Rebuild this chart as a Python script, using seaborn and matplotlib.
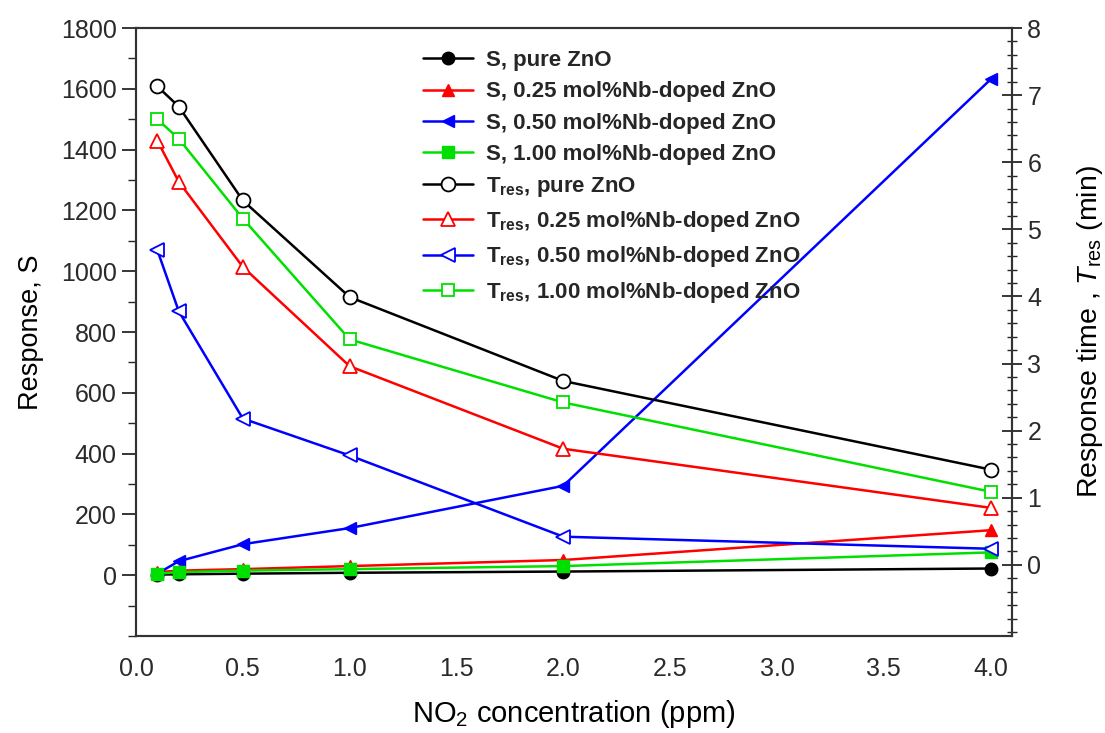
import matplotlib
matplotlib.use("Agg")
import matplotlib.pyplot as plt
from matplotlib.ticker import MultipleLocator
import seaborn as sns
import pandas as pd

sns.set_theme(style="white")
plt.rcParams["font.family"] = ["Liberation Sans", "DejaVu Sans"]
plt.rcParams["mathtext.fontset"] = "custom"
plt.rcParams["mathtext.rm"] = "Liberation Sans"
plt.rcParams["mathtext.it"] = "Liberation Sans:italic"
plt.rcParams["mathtext.bf"] = "Liberation Sans:bold"

# NO2 concentration (ppm)
conc = [0.1, 0.2, 0.5, 1.0, 2.0, 4.0]

# Response S
s_pure = [2, 3, 5, 8, 12, 22]
s_025 = [10, 15, 20, 30, 50, 148]
s_050 = [5, 46, 102, 155, 294, 1631]
s_100 = [5, 10, 15, 20, 30, 75]

# Response time T_res (min)
t_pure = [7.13, 6.83, 5.43, 3.99, 2.74, 1.42]
t_025 = [6.32, 5.71, 4.44, 2.96, 1.73, 0.85]
t_050 = [4.69, 3.78, 2.18, 1.63, 0.42, 0.24]
t_100 = [6.64, 6.35, 5.16, 3.36, 2.42, 1.09]

samples = ["pure ZnO", "0.25 mol%Nb-doped ZnO", "0.50 mol%Nb-doped ZnO", "1.00 mol%Nb-doped ZnO"]
colors = ["#000000", "#ff0000", "#0000ff", "#00e000"]
markers = ["o", "^", "<", "s"]

fig = plt.figure(figsize=(11.05, 7.33), dpi=100)
ax = fig.add_axes([136 / 1105, 1 - 636 / 733, (1012 - 136) / 1105, (636 - 28) / 733])
ax2 = ax.twinx()

handles = []
s_sets = [s_pure, s_025, s_050, s_100]
t_sets = [t_pure, t_025, t_050, t_100]

# filled markers: response on the left axis
for name, col, mk, vals in zip(samples, colors, markers, s_sets):
    ms = 9 if mk != "s" else 8
    df = pd.DataFrame({"conc": conc, "S": vals})
    sns.lineplot(data=df, x="conc", y="S", ax=ax, color=col, marker=mk,
                 markersize=ms, markerfacecolor=col, markeredgecolor=col,
                 markeredgewidth=1.0, linewidth=1.8, legend=False)
    handles.append((plt.Line2D([], [], color=col, marker=mk, markersize=ms,
                               mfc=col, mec=col, lw=1.8), "S, " + name))

# open markers: response time on the right axis
for name, col, mk, vals in zip(samples, colors, markers, t_sets):
    ms = 10 if mk != "s" else 9
    df = pd.DataFrame({"conc": conc, "T": vals})
    sns.lineplot(data=df, x="conc", y="T", ax=ax2, color=col, marker=mk,
                 markersize=ms, markerfacecolor="white", markeredgecolor=col,
                 markeredgewidth=1.3, linewidth=1.8, legend=False)
    handles.append((plt.Line2D([], [], color=col, marker=mk, markersize=ms,
                               mfc="white", mec=col, mew=1.3, lw=1.8),
                    r"T$_\mathregular{res}$, " + name))

ax.set_xlim(0, 4.1)
ax.set_ylim(-200, 1800)
ax2.set_ylim(-1.06, 8)

ax.xaxis.set_minor_locator(MultipleLocator(0.1))
ax.yaxis.set_minor_locator(MultipleLocator(100))
ax2.yaxis.set_minor_locator(MultipleLocator(0.2))

xt = [0, 0.5, 1.0, 1.5, 2.0, 2.5, 3.0, 3.5, 4.0]
ax.set_xticks(xt)
ax.set_xticklabels([f"{v:.1f}" for v in xt])
ax.set_yticks(range(0, 1801, 200))
ax2.set_yticks(range(0, 9))

tick_col = "#2a2a2a"
ax.tick_params(axis="x", which="major", direction="inout", length=14, width=1.3,
               labelsize=18, labelcolor=tick_col, pad=8)
ax.tick_params(axis="x", which="minor", direction="inout", length=7, width=1.0)
ax.tick_params(axis="y", which="major", direction="out", length=10, width=1.3,
               labelsize=18, labelcolor=tick_col, pad=4, left=True)
ax.tick_params(axis="y", which="minor", direction="out", length=6, width=1.0, left=True)
ax2.tick_params(axis="y", which="major", direction="inout", length=14, width=1.3,
                labelsize=18, labelcolor=tick_col, pad=4, right=True)
ax2.tick_params(axis="y", which="minor", direction="inout", length=7, width=1.0, right=True)

for a in (ax, ax2):
    for sp in a.spines.values():
        sp.set_color("#333333")
        sp.set_linewidth(1.5)

ax.set_xlabel(r"NO$_\mathregular{2}$ concentration (ppm)", fontsize=21, labelpad=12,
              color="black")
ax.set_ylabel("Response, S", fontsize=19.5, labelpad=12, color="black")
ax2.set_ylabel(r"Response time , $T_\mathregular{res}$ (min)", fontsize=20.5,
               labelpad=24, rotation=90, color="black")

ax2.legend([h for h, _ in handles], [l for _, l in handles],
           loc="upper left", bbox_to_anchor=(412 / 1105, 1 - 39 / 733),
           bbox_transform=fig.transFigure, frameon=False,
           prop={"weight": "bold", "size": 16}, handlelength=2.25,
           handletextpad=0.6, labelspacing=0.46, borderpad=0)

fig.savefig("out.png", dpi=100)
